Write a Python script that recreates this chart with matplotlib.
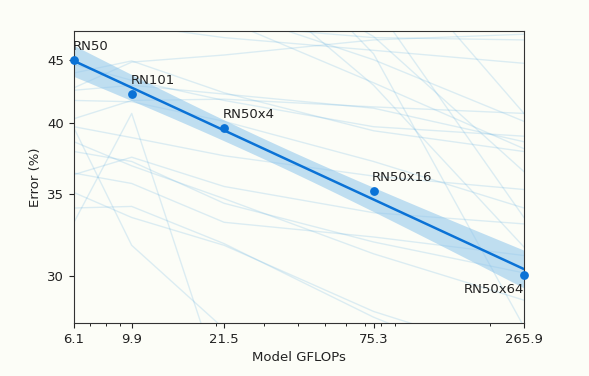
import matplotlib
matplotlib.use("Agg")
import matplotlib.pyplot as plt
from matplotlib.ticker import NullFormatter, NullLocator, FixedLocator
import numpy as np

# model sizes and error
models = ["RN50", "RN101", "RN50x4", "RN50x16", "RN50x64"]
gflops = [6.1, 9.9, 21.5, 75.3, 265.9]
error = [45.0, 42.2, 39.6, 35.2, 30.1]
yticks = [30, 35, 40, 45]

# faint per-dataset curves (error at each model size)
bg_lines = [
    [43.9, 44.9, 42.3, 39.4, 37.9],
    [40.3, 41.7, 41.8, 41.2, 40.7],
    [42.7, 44.8, 45.4, 46.7, 47.2],
    [54.8, 52.3, 48.5, 43.1, 38.1],
    [58.5, 54.3, 49.4, 45.0, 40.1],
    [66.6, 60.7, 54.3, 42.9, 31.7],
    [88.2, 73.2, 60.7, 45.5, 27.3],
    [80.3, 70.5, 63.0, 56.3, 40.7],
    [52.3, 50.3, 48.0, 46.9, 46.7],
    [49.4, 48.0, 46.9, 45.8, 44.7],
    [39.7, 38.9, 37.6, 36.2, 35.3],
    [41.7, 41.6, 40.1, 37.2, 34.1],
    [36.4, 35.7, 33.2, 32.3, 31.2],
    [34.1, 34.2, 31.9, 27.8, 24.8],
    [37.9, 37.2, 34.4, 32.0, 30.2],
    [33.2, 40.7, 24.1, 19.7, 17.7],
    [39.6, 31.8, 27.2, 21.9, 19.1],
    [35.1, 33.5, 31.8, 28.1, 25.7],
    [38.6, 36.9, 34.7, 31.3, 28.7],
    [44.6, 43.3, 41.7, 39.7, 39.0],
    [36.3, 37.5, 35.5, 33.8, 33.1],
    [42.5, 42.9, 42.2, 41.1, 38.6],
    [70.0, 62.0, 55.0, 47.0, 36.5],
    [95.0, 80.0, 66.0, 50.0, 33.5],
]

bg = "#fcfdf7"
blue = "#0a72d6"
plt.rcParams["font.size"] = 9.5
fig = plt.figure(figsize=(5.89, 3.76), dpi=100, facecolor=bg)
ax = fig.add_axes([0.1256, 0.141, 0.764, 0.777], facecolor=bg)
ax.set_xscale("log")
ax.set_yscale("log")

for ln in bg_lines:
    ax.plot(gflops, ln, color="#4aa3de", alpha=0.18, lw=1.0, zorder=1)

# regression in log-log space, 95% band (t, df=3)
lx = np.log(gflops)
ly = np.log(error)
slope, icpt = np.polyfit(lx, ly, 1)
xs = np.linspace(lx[0], lx[-1], 100)
fit = icpt + slope * xs
resid = ly - (icpt + slope * lx)
s = np.sqrt(np.sum(resid ** 2) / (len(lx) - 2))
se = s * np.sqrt(1 / len(lx) + (xs - lx.mean()) ** 2 / np.sum((lx - lx.mean()) ** 2))
t = 3.182
ax.fill_between(np.exp(xs), np.exp(fit - t * se), np.exp(fit + t * se),
                color="#8ec5ec", alpha=0.55, lw=0, zorder=2)
ax.plot(np.exp(xs), np.exp(fit), color=blue, lw=1.8, zorder=3)
ax.scatter(gflops, error, color=blue, s=28, zorder=4, clip_on=False)

for i, name in enumerate(models):
    if name == "RN50x64":
        ax.annotate(name, (gflops[i], error[i]), xytext=(0, -6), textcoords="offset points",
                    ha="right", va="top", color="#222222")
    else:
        ax.annotate(name, (gflops[i], error[i]), xytext=(-1, 5), textcoords="offset points",
                    ha="left", va="bottom", color="#222222")

ax.set_xlim(gflops[0], gflops[-1])
ax.set_ylim(27.5, 47.5)
ax.xaxis.set_major_locator(FixedLocator(gflops))
ax.set_xticklabels([str(g) for g in gflops])
ax.xaxis.set_minor_formatter(NullFormatter())
ax.yaxis.set_major_locator(FixedLocator(yticks))
ax.set_yticklabels([str(t) for t in yticks])
ax.yaxis.set_minor_locator(NullLocator())
ax.tick_params(colors="#222222")
for sp in ax.spines.values():
    sp.set_color("#333333")
ax.set_xlabel("Model GFLOPs", color="#222222")
ax.set_ylabel("Error (%)", color="#222222")

fig.savefig("out.png", dpi=100, facecolor=bg)
